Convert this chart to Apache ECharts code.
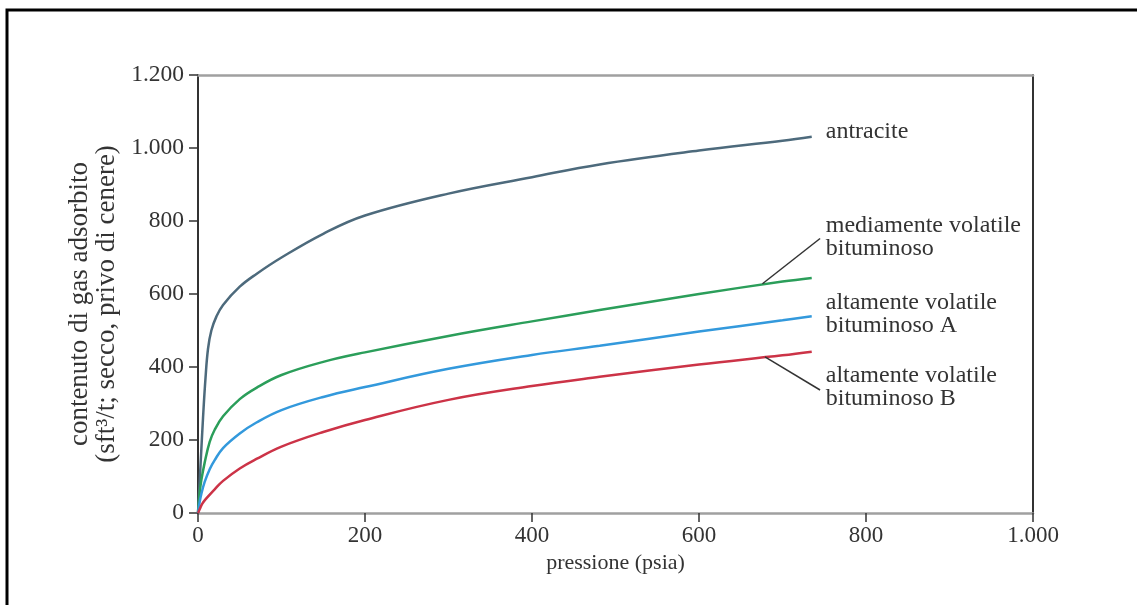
<!DOCTYPE html>
<html>
<head>
<meta charset="utf-8">
<script src="https://cdn.jsdelivr.net/npm/echarts@6/dist/echarts.min.js"></script>
<style>
html,body{margin:0;padding:0;background:#fff;}
#chart{width:1137px;height:605px;}
</style>
</head>
<body>
<div id="chart"></div>
<script>
// ---- data ----
var xTickLabels = ['0', '200', '400', '600', '800', '1.000'];
var yTickLabels = ['0', '200', '400', '600', '800', '1.000', '1.200'];

var seriesNames = [
  'antracite',
  'mediamente volatile\nbituminoso',
  'altamente volatile\nbituminoso A',
  'altamente volatile\nbituminoso B'
];

var antraciteX = [0, 3, 6, 9, 12, 16, 22, 30, 50, 70, 100, 150, 200, 300, 400, 481, 600, 700, 735];
var antraciteY = [0, 130, 260, 370, 450, 500, 538, 570, 620, 655, 700, 765, 815, 875, 920, 955, 993, 1020, 1031];

var mediamenteX = [0, 2, 4, 8, 14, 20, 30, 50, 70, 100, 150, 200, 300, 400, 481, 600, 700, 735];
var mediamenteY = [0, 55, 90, 138, 195, 228, 265, 312, 343, 378, 414, 440, 485, 525, 556, 600, 634, 644];

var altamenteAX = [0, 2, 4, 8, 14, 20, 30, 50, 70, 100, 150, 200, 300, 400, 481, 600, 700, 735];
var altamenteAY = [0, 30, 52, 85, 120, 145, 178, 218, 248, 282, 318, 345, 395, 433, 458, 497, 528, 539];

var altamenteBX = [0, 2, 5, 10, 20, 30, 50, 70, 100, 150, 200, 300, 400, 481, 600, 700, 735];
var altamenteBY = [0, 10, 25, 40, 65, 88, 122, 148, 182, 222, 255, 310, 348, 373, 407, 432, 442];

// leader lines (data space): from curve to label
var leaderGreen = [[676, 628], [745, 752]];
var leaderRed = [[679, 428], [745, 337]];

var colors = ['#4d6a7c', '#2b9e5a', '#3399dc', '#cc3347'];

function pairs(xs, ys) {
  var out = [];
  for (var i = 0; i < xs.length; i++) out.push([xs[i], ys[i]]);
  return out;
}

var FONT = '"Liberation Serif", "DejaVu Serif", serif';
var TXT = '#333';

var chart = echarts.init(document.getElementById('chart'));

function makeSeries(idx, xs, ys, offset, leader) {
  var s = {
    type: 'line',
    name: seriesNames[idx],
    data: pairs(xs, ys),
    xAxisIndex: 0,
    yAxisIndex: 0,
    showSymbol: false,
    symbol: 'none',
    smooth: 0.4,
    lineStyle: { color: colors[idx], width: 2.5 },
    itemStyle: { color: colors[idx] },
    endLabel: {
      show: true,
      formatter: function (p) { return p.seriesName; },
      color: TXT,
      fontFamily: FONT,
      fontSize: 24,
      lineHeight: 23,
      align: 'left',
      verticalAlign: 'middle',
      offset: offset,
      distance: 8
    },
    silent: true,
    z: 3
  };
  if (leader) {
    s.markLine = {
      silent: true,
      symbol: ['none', 'none'],
      label: { show: false },
      lineStyle: { color: '#333', width: 1.5, type: 'solid' },
      data: [[{ coord: leader[0] }, { coord: leader[1] }]]
    };
  }
  return s;
}

var option = {
  animation: false,
  backgroundColor: '#fff',
  graphic: [{
    type: 'rect',
    shape: { x: 7, y: 10, width: 1200, height: 700 },
    style: { fill: 'none', stroke: '#000', lineWidth: 3 },
    z: 10
  }],
  grid: { left: 198, right: 104, top: 75, bottom: 92, containLabel: false },
  xAxis: [{
    type: 'value',
    min: 0, max: 1000, interval: 200,
    name: 'pressione (psia)',
    nameLocation: 'middle',
    nameGap: 36,
    nameTextStyle: { color: TXT, fontFamily: FONT, fontSize: 22 },
    axisLine: { show: true, onZero: false, lineStyle: { color: '#a0a0a0', width: 2.5 } },
    axisTick: { show: true, inside: false, length: 9, lineStyle: { color: '#333', width: 1.5 } },
    axisLabel: {
      color: TXT, fontFamily: FONT, fontSize: 23, margin: 11,
      formatter: function (v) { return xTickLabels[Math.round(v / 200)]; }
    },
    splitLine: { show: false }
  }, {
    type: 'value',
    position: 'top',
    min: 0, max: 1000, interval: 200,
    axisLine: { show: true, onZero: false, lineStyle: { color: '#a0a0a0', width: 2.5 } },
    axisTick: { show: false },
    axisLabel: { show: false },
    splitLine: { show: false }
  }],
  yAxis: [{
    type: 'value',
    min: 0, max: 1200, interval: 200,
    name: 'contenuto di gas adsorbito\n(sft³/t; secco, privo di cenere)',
    nameLocation: 'middle',
    nameGap: 73,
    nameTextStyle: { color: TXT, fontFamily: FONT, fontSize: 27, lineHeight: 27, padding: [0, 20, 0, 0] },
    axisLine: { show: true, onZero: false, lineStyle: { color: '#333', width: 2 } },
    axisTick: { show: true, inside: false, length: 9, lineStyle: { color: '#333', width: 1.5 } },
    axisLabel: {
      color: TXT, fontFamily: FONT, fontSize: 23.5, margin: 14,
      formatter: function (v) { return yTickLabels[Math.round(v / 200)]; }
    },
    splitLine: { show: false }
  }, {
    type: 'value',
    position: 'right',
    min: 0, max: 1200, interval: 200,
    axisLine: { show: true, onZero: false, lineStyle: { color: '#333', width: 2 } },
    axisTick: { show: false },
    axisLabel: { show: false },
    splitLine: { show: false }
  }],
  series: [
    makeSeries(0, antraciteX, antraciteY, [6, -5], null),
    makeSeries(1, mediamenteX, mediamenteY, [6, -41], leaderGreen),
    makeSeries(2, altamenteAX, altamenteAY, [6, -2], null),
    makeSeries(3, altamenteBX, altamenteBY, [6, 36], leaderRed)
  ]
};

chart.setOption(option);
</script>
</body>
</html>
